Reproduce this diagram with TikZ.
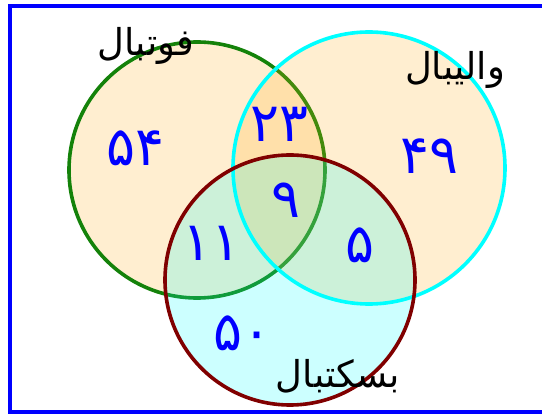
\documentclass[tikz,border=0pt]{standalone}
\usepackage{fontspec}
\newfontfamily\arabicfont[Script=Arabic]{DejaVu Sans}
\TeXXeTstate=1
\usepackage{xcolor}
\definecolor{aqua}{RGB}{0,255,255}
\definecolor{peach}{RGB}{255,170,20}
\definecolor{leaf}{RGB}{20,130,10}
\definecolor{maroonish}{RGB}{128,0,0}
\definecolor{framecol}{RGB}{0,0,255}
\usetikzlibrary{positioning}

\begin{document}
\begin{tikzpicture}[x=1pt,y=-1pt,
  ring/.style={line width=3.6pt,fill opacity=0.2},
  num/.style={text=framecol,font=\arabicfont\fontsize{54}{54}\selectfont},
  sport/.style={text=black,font=\arabicfont\fontsize{37}{37}\selectfont}]
\useasboundingbox (0,0) rectangle (542,417);
\begin{scope}
\clip (0,0) rectangle (542,417);
\draw[framecol,line width=4pt] (10,6) rectangle (560,412);
\end{scope}
% three sets
\filldraw[ring,draw=leaf,fill=peach] (197,170) circle (128);
\filldraw[ring,draw=aqua,fill=peach] (369,168) circle (136);
\filldraw[ring,draw=maroonish,fill=aqua] (290,280) circle (125);
% set names
\node[sport] (foot) at (146,46) {\beginR فوتبال\endR};
\node[sport] (volley) at (455,70) {\beginR والیبال\endR};
\node[sport] (basket) at (338,376) {\beginR بسکتبال\endR};
% counts
\node[num] (onlyF) at (136,148) {۵۴};
\node[num] (FV) at (280,124) {۲۳};
\node[num] (onlyV) at (430,156) {۴۹};
\node[num] (FVB) at (286,200) {۹};
\node[num] (FB) at (212,243) {۱۱};
\node[num] (VB) at (360,245) {۵};
\node[num] (onlyB) at (243,333) {۵۰};
\end{tikzpicture}
\end{document}
